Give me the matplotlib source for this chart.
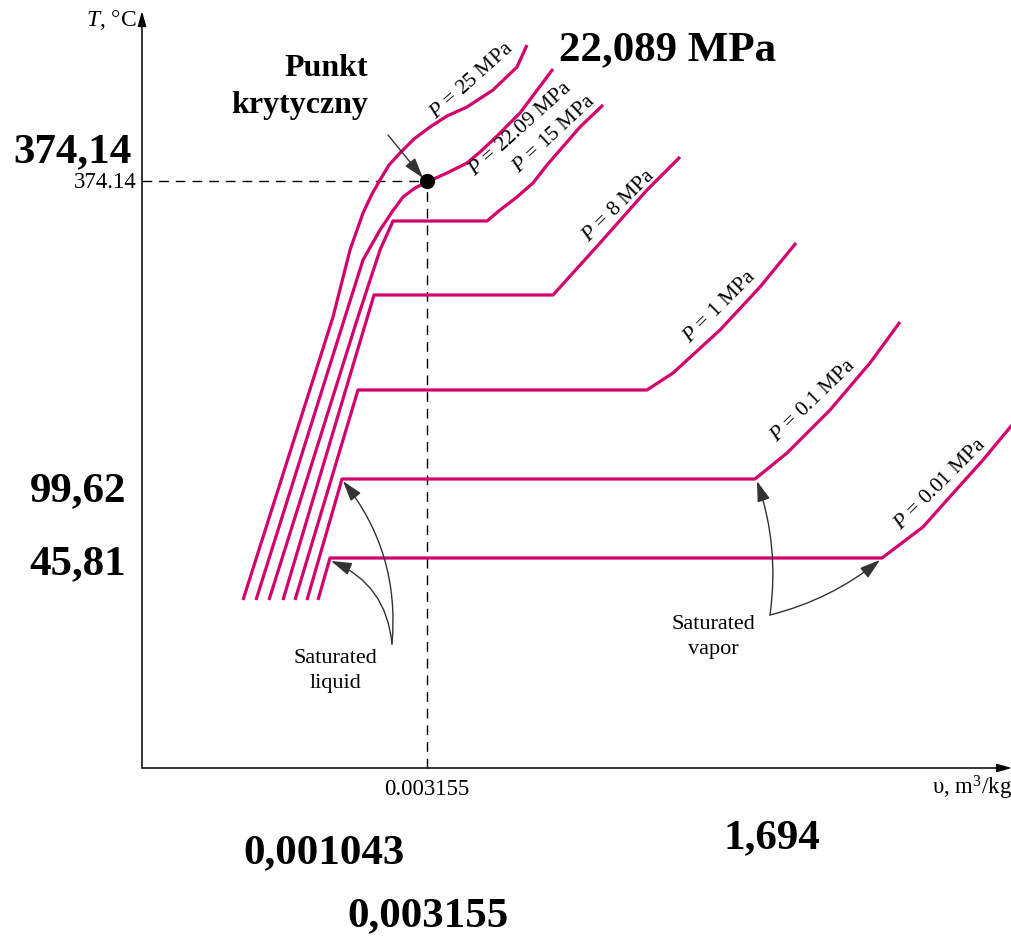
import matplotlib
matplotlib.use("Agg")
from matplotlib import pyplot as plt

plt.rcParams['font.family'] = ['Liberation Serif', 'DejaVu Serif']
plt.rcParams['mathtext.fontset'] = 'custom'
plt.rcParams['mathtext.rm'] = 'Liberation Serif'
plt.rcParams['mathtext.it'] = 'Liberation Serif:italic'
plt.rcParams['mathtext.bf'] = 'Liberation Serif:bold'

# schematic T-v diagram, units are arbitrary diagram units
isobar_names = ['25', '22.09', '15', '8', '1', '0.1', '0.01']
isobar_v = [
    [101, 191, 208, 221, 230, 238, 247, 258, 272, 288, 305, 325, 351, 375, 385],
    [114, 203, 221, 238, 250, 261, 273, 285, 305, 325, 338, 351, 378, 411],
    [127, 215, 238, 251, 345, 358, 375, 391, 405, 438, 461],
    [141, 232, 411, 458, 505, 538],
    [153, 216, 505, 531, 578, 618, 654],
    [165, 200, 613, 645, 688, 728, 758],
    [176, 188, 740, 781, 805, 841, 870],
]
isobar_T = [
    [168, 451, 518, 555, 574, 588, 603, 615, 629, 641, 652, 661, 678, 701, 723],
    [168, 451, 508, 538, 556, 571, 580, 586, 595, 605, 616, 628, 655, 699],
    [168, 448, 518, 547, 547, 558, 571, 585, 603, 641, 663],
    [168, 473, 473, 525, 578, 611],
    [168, 378, 378, 395, 438, 481, 525],
    [168, 289, 289, 315, 358, 405, 446],
    [168, 210, 210, 241, 268, 308, 343],
]
label_v = [330, 379, 412, 477, 578, 671, 798]
label_T = [687, 639, 634, 562, 461, 367, 284]
label_rot = [42, 42, 43, 45, 45, 44, 45]

crit_v, crit_T = 285, 587
big_labels = ['22,089 MPa', '374,14', '99,62', '45,81', '0,001043', '1,694', '0,003155']
big_v = [526, -70, -64, -64, 182, 630, 286]
big_T = [718, 616, 277, 204, -85, -70, -148]

line_color = '#d1006c'

fig = plt.figure(figsize=(10.12, 9.38), dpi=100)
ax = fig.add_axes([0, 0, 1, 1])
ax.set_xlim(-142, 870)
ax.set_ylim(-170, 768)
ax.axis('off')

for i in range(len(isobar_names)):
    ax.plot(isobar_v[i], isobar_T[i], color=line_color, lw=2.3,
            solid_joinstyle='round', solid_capstyle='butt', zorder=3)
    ax.text(label_v[i], label_T[i], '$P$ = ' + isobar_names[i] + ' MPa',
            rotation=label_rot[i], rotation_mode='anchor', ha='center',
            va='center', fontsize=15.5, zorder=4)

# axes with arrows
ax.annotate('', xy=(0, 757), xytext=(0, 0),
            arrowprops=dict(arrowstyle='-|>,head_length=0.9,head_width=0.25',
                            color='black', lw=1.1, shrinkA=0, shrinkB=0))
ax.annotate('', xy=(870, 0), xytext=(0, 0),
            arrowprops=dict(arrowstyle='-|>,head_length=0.9,head_width=0.25',
                            color='black', lw=1.1, shrinkA=0, shrinkB=0))

# critical point
ax.plot([0, crit_v], [crit_T, crit_T], color='black', lw=1, dashes=(7, 5))
ax.plot([crit_v, crit_v], [0, crit_T], color='black', lw=1, dashes=(7, 5))
ax.plot(crit_v, crit_T, 'o', color='black', ms=10, zorder=5)

arrow = dict(arrowstyle='-|>,head_length=0.9,head_width=0.28', color='#333333',
             lw=1, shrinkA=0, shrinkB=0, mutation_scale=14)
ax.annotate('', xy=(281, 590), xytext=(246, 633), arrowprops=arrow)
ax.annotate('', xy=(201, 287), xytext=(250, 124),
            arrowprops=dict(arrow, connectionstyle='arc3,rad=0.2'))
ax.annotate('', xy=(189, 207), xytext=(250, 124),
            arrowprops=dict(arrow, connectionstyle='arc3,rad=0.3'))
ax.annotate('', xy=(615, 287), xytext=(628, 153),
            arrowprops=dict(arrow, connectionstyle='arc3,rad=0.12'))
ax.annotate('', xy=(738, 208), xytext=(628, 153),
            arrowprops=dict(arrow, connectionstyle='arc3,rad=0.11'))

ax.text(193, 97, 'Saturated\nliquid', ha='center', va='center', fontsize=16,
        linespacing=1.45)
ax.text(571, 131, 'Saturated\nvapor', ha='center', va='center', fontsize=16,
        linespacing=1.45)

# axis texts
ax.text(-5, 586, '374.14', ha='right', va='center', fontsize=16.5)
ax.text(crit_v, -21, '0.003155', ha='center', va='center', fontsize=16.5)
ax.text(870, -20, 'υ, m$^3$/kg', ha='right', va='center', fontsize=16.5)
ax.text(-5, 748, '$T$, °C', ha='right', va='center', fontsize=17)

for i in range(len(big_labels)):
    ax.text(big_v[i], big_T[i], big_labels[i], ha='center', va='center',
            fontsize=31, fontweight='bold')
ax.text(226, 681, 'Punkt\nkrytyczny', ha='right', va='center', fontsize=23,
        fontweight='bold', multialignment='right', linespacing=1.4)

fig.savefig('out.png', dpi=100)
